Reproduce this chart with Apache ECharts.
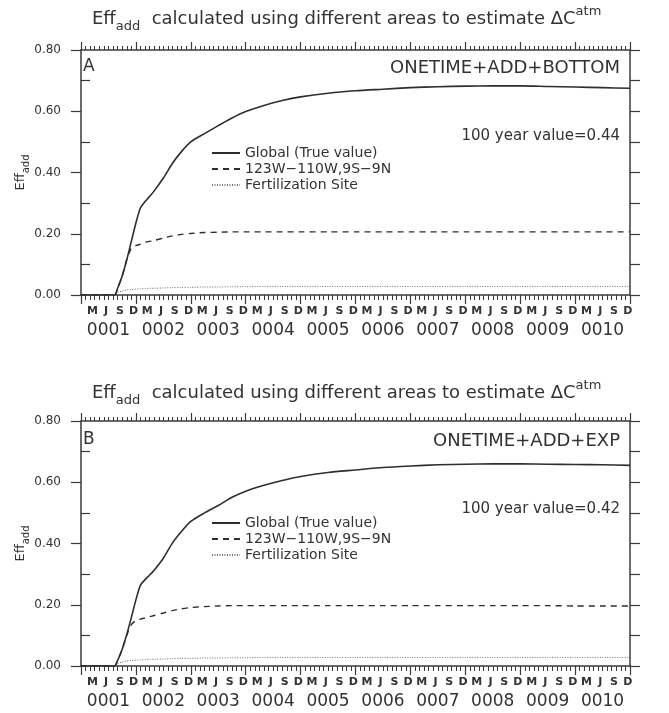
<!DOCTYPE html>
<html><head><meta charset="utf-8">
<script src="https://cdn.jsdelivr.net/npm/echarts@6/dist/echarts.min.js"></script>
<style>html,body{margin:0;padding:0;background:#fff}#c{width:669px;height:713px}</style>
</head><body><div id="c"></div>
<script>
// ---- data (months since start of year 0001) ----
const months = [0, 7.3, 8, 9, 10, 11, 12, 13, 14, 15, 16, 18, 20, 22, 24, 27, 30, 33, 36, 40, 44, 48, 54, 60, 66, 72, 78, 84, 90, 96, 102, 108, 114, 120];

const globalA = [0, 0, 0.022, 0.062, 0.115, 0.175, 0.235, 0.285, 0.305, 0.322, 0.340, 0.382, 0.430, 0.469, 0.500, 0.527, 0.553, 0.578, 0.599, 0.619, 0.635, 0.647, 0.659, 0.667, 0.672, 0.677, 0.680, 0.682, 0.683, 0.683, 0.681, 0.679, 0.677, 0.675];
const regionA = [0, 0, 0.022, 0.062, 0.115, 0.153, 0.161, 0.166, 0.172, 0.175, 0.178, 0.186, 0.193, 0.198, 0.201, 0.204, 0.205, 0.206, 0.206, 0.206, 0.206, 0.206, 0.206, 0.206, 0.206, 0.206, 0.206, 0.206, 0.206, 0.206, 0.206, 0.206, 0.206, 0.206];
const siteA = [0, 0, 0.008, 0.013, 0.016, 0.018, 0.019, 0.020, 0.021, 0.022, 0.022, 0.023, 0.024, 0.025, 0.025, 0.026, 0.026, 0.027, 0.027, 0.028, 0.028, 0.028, 0.028, 0.028, 0.028, 0.028, 0.028, 0.028, 0.028, 0.028, 0.028, 0.028, 0.028, 0.028];

const globalB = [0, 0, 0.018, 0.055, 0.103, 0.158, 0.216, 0.264, 0.282, 0.297, 0.313, 0.352, 0.402, 0.440, 0.472, 0.500, 0.524, 0.551, 0.571, 0.590, 0.606, 0.619, 0.632, 0.640, 0.648, 0.653, 0.657, 0.659, 0.660, 0.660, 0.659, 0.658, 0.657, 0.655];
const regionB = [0, 0, 0.018, 0.055, 0.100, 0.135, 0.148, 0.153, 0.157, 0.161, 0.165, 0.173, 0.181, 0.187, 0.191, 0.194, 0.196, 0.197, 0.197, 0.197, 0.197, 0.197, 0.197, 0.197, 0.197, 0.197, 0.197, 0.197, 0.197, 0.197, 0.197, 0.196, 0.196, 0.196];
const siteB = [0, 0, 0.008, 0.013, 0.016, 0.018, 0.019, 0.020, 0.021, 0.022, 0.022, 0.023, 0.024, 0.025, 0.025, 0.026, 0.026, 0.027, 0.027, 0.028, 0.028, 0.028, 0.028, 0.028, 0.028, 0.028, 0.028, 0.028, 0.028, 0.028, 0.028, 0.028, 0.028, 0.028];

const seriesNames = ['Global (True value)', '123W\u2212110W,9S\u22129N', 'Fertilization Site'];
const monthLetters = ['J','F','M','A','M','J','J','A','S','O','N','D'];
const years = ['0001','0002','0003','0004','0005','0006','0007','0008','0009','0010'];
const yTicks = [0, 0.2, 0.4, 0.6, 0.8];
const panelLabels = ['A', 'B'];
const experimentNames = ['ONETIME+ADD+BOTTOM', 'ONETIME+ADD+EXP'];
const hundredYear = ['100 year value=0.44', '100 year value=0.42'];

// ---- build ----
const FONT = 'DejaVu Sans';
const AX = '#3a3a3a';
const TXT = '#333333';
const monthCats = [];
years.forEach(y => monthLetters.forEach(m => monthCats.push(m)));

const grids = [
  {left: 81, top: 50, width: 549, height: 245},
  {left: 81, top: 421, width: 549, height: 245}
];

function xAxesFor(gi) {
  return [
    {gridIndex: gi, type: 'value', position: 'bottom', min: 0, max: 120, interval: 12,
     axisLine: {show: true, onZero: false, lineStyle: {color: AX, width: 1.5}},
     axisTick: {show: true, length: 9, lineStyle: {color: AX, width: 1.2}},
     minorTick: {show: true, splitNumber: 12, length: 5, lineStyle: {color: AX, width: 1}},
     axisLabel: {show: false}, splitLine: {show: false}, minorSplitLine: {show: false}},
    {gridIndex: gi, type: 'value', position: 'top', min: 0, max: 120, interval: 12,
     axisLine: {show: true, onZero: false, lineStyle: {color: AX, width: 1.5}},
     axisTick: {show: true, length: 8, lineStyle: {color: AX, width: 1.2}},
     minorTick: {show: true, splitNumber: 12, length: 4, lineStyle: {color: AX, width: 1}},
     axisLabel: {show: false}, splitLine: {show: false}, minorSplitLine: {show: false}},
    {gridIndex: gi, type: 'category', position: 'bottom', data: monthCats, boundaryGap: true,
     axisLine: {show: false}, axisTick: {show: false}, splitLine: {show: false},
     axisLabel: {interval: (i) => i % 3 === 2, margin: 11, fontSize: 11, fontWeight: 'bold', fontFamily: FONT, color: TXT}},
    {gridIndex: gi, type: 'category', position: 'bottom', data: years, boundaryGap: true,
     axisLine: {show: false}, axisTick: {show: false}, splitLine: {show: false},
     axisLabel: {interval: 0, margin: 27, fontSize: 17, fontFamily: FONT, color: TXT}}
  ];
}
function yAxesFor(gi) {
  return [
    {gridIndex: gi, type: 'value', position: 'left', min: 0, max: 0.8, interval: 0.2,
     axisLine: {show: true, lineStyle: {color: AX, width: 1.5}},
     axisTick: {show: true, length: 10, lineStyle: {color: AX, width: 1.2}},
     axisLabel: {margin: 20, fontSize: 12, fontFamily: FONT, color: TXT, formatter: v => v.toFixed(2),
       customValues: yTicks},
     splitLine: {show: false},
     name: '{e|Eff}{s|add}', nameLocation: 'middle', nameGap: 50, nameRotate: 90, nameMoveOverlap: false,
     nameTextStyle: {color: TXT, fontFamily: FONT, fontSize: 13, lineHeight: 20,
       rich: {e: {fontSize: 13, fontFamily: FONT, color: TXT, lineHeight: 20},
              s: {fontSize: 10, fontFamily: FONT, color: TXT, lineHeight: 10, verticalAlign: 'bottom'}}}},
    {gridIndex: gi, type: 'value', position: 'left', min: 0, max: 0.8, interval: 0.1,
     axisLine: {show: false},
     axisTick: {show: true, inside: true, length: 9, customValues: [0.1, 0.3, 0.5, 0.7], lineStyle: {color: AX, width: 1.2}},
     axisLabel: {show: false}, splitLine: {show: false}},
    {gridIndex: gi, type: 'value', position: 'right', min: 0, max: 0.8, interval: 0.1,
     axisLine: {show: true, lineStyle: {color: AX, width: 1.5}},
     axisTick: {show: true, length: 10, lineStyle: {color: AX, width: 1.2}},
     axisLabel: {show: false}, splitLine: {show: false}}
  ];
}

const panelData = [[globalA, regionA, siteA], [globalB, regionB, siteB]];
const lineStyles = [
  {color: '#2e2e2e', width: 1.6, type: 'solid'},
  {color: '#2e2e2e', width: 1.4, type: [6, 5]},
  {color: '#707070', width: 1, type: [1, 1.5]}
];
const series = [];
panelData.forEach((arrs, p) => {
  arrs.forEach((vals, k) => {
    series.push({
      type: 'line', name: seriesNames[k], xAxisIndex: p * 4, yAxisIndex: p * 3,
      data: months.map((m, i) => [m, vals[i]]),
      symbol: 'none', smooth: 0.25, lineStyle: lineStyles[k], itemStyle: {color: lineStyles[k].color},
      z: 3 - k
    });
  });
});

const titleRich = {
  e: {fontSize: 18, fontFamily: FONT, color: TXT, lineHeight: 28},
  s: {fontSize: 13, fontFamily: FONT, color: TXT, lineHeight: 14, verticalAlign: 'bottom'},
  p: {fontSize: 13, fontFamily: FONT, color: TXT, lineHeight: 14, verticalAlign: 'top'}
};
const titleText = '{e|Eff}{s|add}{e|  calculated using different areas to estimate \u0394C}{p|atm}';
const titleTops = [5, 379];
const legendTops = [146, 516];
const tagY = [67, 440];
const hundredY = [136, 509];

const graphic = [];
[0, 1].forEach(p => {
  graphic.push({type: 'text', x: 83, y: tagY[p], style: {text: panelLabels[p], font: '17px ' + FONT, fill: TXT, textAlign: 'left', textVerticalAlign: 'middle'}});
  graphic.push({type: 'text', x: 620, y: tagY[p] + 1, style: {text: experimentNames[p], font: '18px ' + FONT, fill: TXT, textAlign: 'right', textVerticalAlign: 'middle'}});
  graphic.push({type: 'text', x: 620, y: hundredY[p], style: {text: hundredYear[p], font: '15px ' + FONT, fill: TXT, textAlign: 'right', textVerticalAlign: 'middle'}});
});

const option = {
  animation: false,
  backgroundColor: '#ffffff',
  title: titleTops.map(t => ({text: titleText, left: 92, top: t, padding: 0,
    textStyle: {fontSize: 18, fontFamily: FONT, color: TXT, fontWeight: 'normal', lineHeight: 28, rich: titleRich}})),
  legend: legendTops.map(t => ({
    data: seriesNames, orient: 'vertical', left: 211, top: t, padding: 0,
    itemWidth: 28, itemHeight: 10, itemGap: 2, selectedMode: false,
    itemStyle: {opacity: 0},
    textStyle: {fontSize: 14, fontFamily: FONT, color: TXT, lineHeight: 12}
  })),
  grid: grids,
  xAxis: xAxesFor(0).concat(xAxesFor(1)),
  yAxis: yAxesFor(0).concat(yAxesFor(1)),
  series: series,
  graphic: graphic
};
const chart = echarts.init(document.getElementById('c'), null, {renderer: 'canvas'});
chart.setOption(option);
</script>
</body></html>
